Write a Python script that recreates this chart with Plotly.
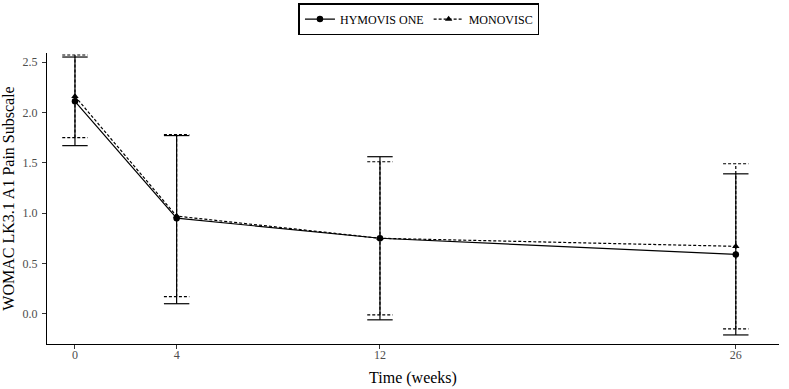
import plotly.graph_objects as go

weeks = [0, 4, 12, 26]
hymovis_mean = [2.11, 0.95, 0.75, 0.59]
hymovis_lo = [1.67, 0.10, -0.06, -0.21]
hymovis_hi = [2.55, 1.77, 1.56, 1.39]
monovisc_mean = [2.16, 0.97, 0.75, 0.67]
monovisc_lo = [1.75, 0.17, -0.01, -0.15]
monovisc_hi = [2.57, 1.78, 1.51, 1.49]
x_ticks = [0, 4, 12, 26]
y_ticks = [0.0, 0.5, 1.0, 1.5, 2.0, 2.5]

CAP = 0.5
FONT = "Liberation Serif"


def errbar_xy(xs, lo, hi):
    ex, ey = [], []
    for x, l, h in zip(xs, lo, hi):
        ex += [x, x, None, x - CAP, x + CAP, None, x - CAP, x + CAP, None]
        ey += [l, h, None, l, l, None, h, h, None]
    return ex, ey


fig = go.Figure()

series = [
    ("MONOVISC", monovisc_mean, monovisc_lo, monovisc_hi, "3px,2px", "triangle-up", 2),
    ("HYMOVIS ONE", hymovis_mean, hymovis_lo, hymovis_hi, "solid", "circle", 1),
]
for name, mean, lo, hi, dash, sym, rank in series:
    ex, ey = errbar_xy(weeks, lo, hi)
    fig.add_trace(go.Scatter(
        x=ex, y=ey, mode="lines", showlegend=False, hoverinfo="skip",
        line=dict(color="black", width=1.2, dash=dash),
    ))
    fig.add_trace(go.Scatter(
        x=weeks, y=mean, mode="lines+markers", name=name, legendrank=rank,
        line=dict(color="black", width=1.2, dash=dash),
        marker=dict(symbol=sym, size=6.5, color="black"),
    ))

fig.update_layout(
    width=789, height=389,
    margin=dict(l=47, r=10, t=53, b=45, autoexpand=False),
    plot_bgcolor="white", paper_bgcolor="white",
    font=dict(family=FONT, color="black"),
    legend=dict(
        orientation="h", xref="container", yref="container",
        x=0.531, xanchor="center", y=0.992, yanchor="top",
        bordercolor="black", borderwidth=1.5,
        font=dict(family=FONT, size=12, color="black"),
        itemwidth=30, traceorder="normal",
    ),
    xaxis=dict(
        range=[-1.1, 27.7], tickvals=x_ticks, ticktext=[str(t) for t in x_ticks],
        automargin=False,
        showgrid=False, zeroline=False, showline=True, linecolor="black", linewidth=1.2,
        ticks="outside", ticklen=4, tickcolor="#333333", ticklabelstandoff=-5,
        tickfont=dict(family=FONT, size=12, color="#4D4D4D"),
        title=dict(text="Time (weeks)", font=dict(family=FONT, size=16, color="black"), standoff=11),
    ),
    yaxis=dict(
        range=[-0.30, 2.59], tickvals=y_ticks, ticktext=[f"{t:.1f}" for t in y_ticks],
        automargin=False,
        showgrid=False, zeroline=False, showline=True, linecolor="black", linewidth=1.2,
        ticks="outside", ticklen=4, tickcolor="#333333", ticklabelstandoff=2,
        tickfont=dict(family=FONT, size=12, color="#4D4D4D"),
        title=dict(text="WOMAC LK3.1 A1 Pain Subscale", font=dict(family=FONT, size=16, color="black"), standoff=4),
    ),
)

fig.write_html("out.html")
